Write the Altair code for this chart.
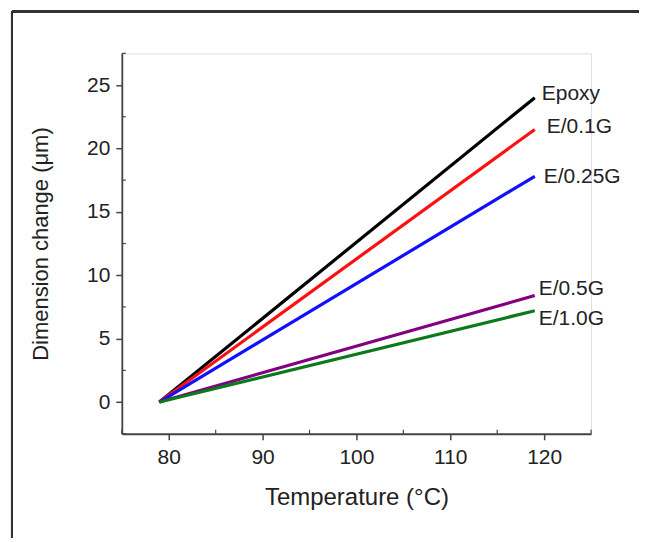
import altair as alt
import pandas as pd

# Data
series = ["Epoxy", "E/0.1G", "E/0.25G", "E/0.5G", "E/1.0G"]
start_temp = [79, 79, 79, 79, 79]
end_temp = [119, 119, 119, 119, 119]
start_change = [0.0, 0.0, 0.0, 0.0, 0.0]
end_change = [24.0, 21.5, 17.8, 8.4, 7.2]
x_ticks = [80, 90, 100, 110, 120]
x_minor = [75, 85, 95, 105, 115, 125]
y_ticks = [0, 5, 10, 15, 20, 25]
y_minor = [-2.5, 2.5, 7.5, 12.5, 17.5, 22.5, 27.5]

colors = ["#000000", "#ff1010", "#1010ff", "#800080", "#0a7a1a"]
label_offsets = {"Epoxy": (7, -4), "E/0.1G": (12, -2), "E/0.25G": (9, 1),
                 "E/0.5G": (4, -7), "E/1.0G": (4, 8)}

rows = []
for s, t0, t1, c0, c1 in zip(series, start_temp, end_temp, start_change, end_change):
    rows.append({"series": s, "T": t0, "D": c0, "end": False})
    rows.append({"series": s, "T": t1, "D": c1, "end": True})
df = pd.DataFrame(rows)
df_xminor = pd.DataFrame({"T": x_minor})
df_yminor = pd.DataFrame({"D": y_minor})

FONT = "Liberation Sans"
TXT = "#222222"
AX = "#444444"

W, H = 470, 381

xscale = alt.Scale(domain=[75, 125], nice=False, zero=False)
yscale = alt.Scale(domain=[-2.5, 27.5], nice=False, zero=False)

xaxis = alt.Axis(values=x_ticks, title="Temperature (°C)", grid=False,
                 tickSize=6, tickWidth=1.5, domainWidth=1.8, domainColor=AX, tickColor=AX,
                 labelFontSize=21, labelFont=FONT, labelColor=TXT, labelPadding=7,
                 titleFontSize=24, titleFont=FONT, titleColor=TXT, titleFontWeight="normal",
                 titlePadding=18)
yaxis = alt.Axis(values=y_ticks, title="Dimension change (μm)", grid=False,
                 tickSize=6, tickWidth=1.5, domainWidth=1.8, domainColor=AX, tickColor=AX,
                 labelFontSize=21, labelFont=FONT, labelColor=TXT, labelPadding=6,
                 titleFontSize=22, titleFont=FONT, titleColor=TXT, titleFontWeight="normal",
                 titlePadding=34)

base = alt.Chart(df)

lines = base.mark_line(strokeWidth=3.2, clip=False).encode(
    x=alt.X("T:Q", scale=xscale, axis=xaxis),
    y=alt.Y("D:Q", scale=yscale, axis=yaxis),
    color=alt.Color("series:N", scale=alt.Scale(domain=series, range=colors), legend=None),
    detail="series:N",
)

# minor ticks
minor_x = alt.Chart(df_xminor).mark_rule(color=AX, strokeWidth=1.2).encode(
    x=alt.X("T:Q", scale=xscale), y=alt.value(H - 4), y2=alt.value(H))
minor_y = alt.Chart(df_yminor).mark_rule(color=AX, strokeWidth=1.2).encode(
    y=alt.Y("D:Q", scale=yscale), x=alt.value(0), x2=alt.value(4))

labels = []
for s in series:
    dx, dy = label_offsets[s]
    labels.append(
        base.transform_filter((alt.datum.series == s) & (alt.datum.end == True))
        .mark_text(align="left", baseline="middle", dx=dx, dy=dy, fontSize=21,
                   font=FONT, color=TXT, clip=False)
        .encode(x=alt.X("T:Q", scale=xscale), y=alt.Y("D:Q", scale=yscale), text="series:N")
    )

# figure frame (left and top border lines of the original image)
frame_left = alt.Chart(df).mark_rule(color="#333333", strokeWidth=2, clip=False).encode(
    x=alt.value(-110), y=alt.value(-42), y2=alt.value(500))
frame_top = alt.Chart(df).mark_rule(color="#333333", strokeWidth=2, clip=False).encode(
    x=alt.value(-110), x2=alt.value(530), y=alt.value(-42))

chart = alt.layer(lines, frame_left, frame_top, minor_x, minor_y, *labels).properties(
    width=W, height=H,
    autosize=alt.AutoSizeParams(type="none"),
    padding={"left": 114, "top": 45, "right": 48, "bottom": 104},
).configure_view(stroke=None).configure(background="white")

chart.save("out.html", embed_options={"renderer": "svg", "actions": False})
